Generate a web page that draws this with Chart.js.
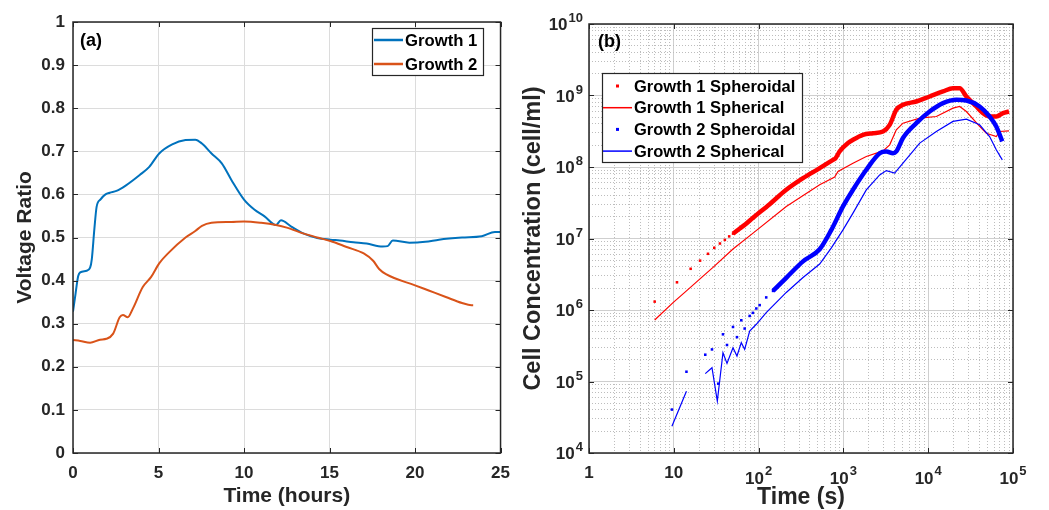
<!DOCTYPE html>
<html>
<head>
<meta charset="utf-8">
<script src="https://cdn.jsdelivr.net/npm/chart.js@4.4.1/dist/chart.umd.min.js"></script>
<style>
	html, body { margin: 0; padding: 0; background: #fff; }
	#wrap { position: relative; width: 1049px; height: 510px; }
	#voltageChart { position: absolute; left: 0; top: 0; }
	#cellChart { position: absolute; left: 520px; top: 0; }
</style>
</head>
<body>
<div id="wrap">
	<canvas id="voltageChart" width="520" height="510"></canvas>
	<canvas id="cellChart" width="529" height="510"></canvas>
</div>
<script>
// (a) voltage ratio vs time (hours)
const hoursGrowth1 = [0, 0.15, 0.3, 0.42, 0.8, 1.0, 1.1, 1.25, 1.38, 1.6, 1.9, 2.15, 2.54, 3.1, 3.9, 4.46, 5.04, 5.8, 6.58, 7.15, 7.54, 8.1, 8.7, 9.27, 10.0, 10.6, 11.2, 11.87, 12.16, 12.74, 13.5, 14.28, 15.05, 15.6, 16.4, 17.17, 18.1, 18.4, 18.7, 19.67, 20.6, 21.4, 22.75, 23.9, 24.67, 25];
const ratioGrowth1 = [0.328, 0.37, 0.41, 0.419, 0.423, 0.43, 0.45, 0.52, 0.571, 0.588, 0.6, 0.604, 0.608, 0.621, 0.645, 0.664, 0.695, 0.716, 0.726, 0.727, 0.718, 0.695, 0.672, 0.633, 0.588, 0.565, 0.549, 0.529, 0.540, 0.526, 0.509, 0.499, 0.495, 0.493, 0.489, 0.486, 0.479, 0.48, 0.493, 0.488, 0.49, 0.495, 0.5, 0.503, 0.513, 0.513];
const hoursGrowth2 = [0, 0.42, 1.0, 1.58, 1.96, 2.35, 2.73, 2.92, 3.2, 3.5, 4.08, 4.56, 5.04, 5.6, 6.58, 7.15, 7.54, 8.1, 9.27, 10, 11, 11.87, 12.5, 13.5, 14.28, 15.05, 16, 17, 17.55, 17.9, 18.3, 20, 20.8, 21.8, 22.75, 23.3, 23.4];
const ratioGrowth2 = [0.262, 0.26, 0.256, 0.263, 0.265, 0.277, 0.315, 0.32, 0.315, 0.335, 0.385, 0.408, 0.44, 0.465, 0.5, 0.515, 0.527, 0.534, 0.536, 0.537, 0.534, 0.529, 0.523, 0.509, 0.5, 0.492, 0.478, 0.463, 0.446, 0.427, 0.415, 0.389, 0.377, 0.362, 0.348, 0.343, 0.343];
const hourTicks = [0, 5, 10, 15, 20, 25];
const ratioTicks = [0, 0.1, 0.2, 0.3, 0.4, 0.5, 0.6, 0.7, 0.8, 0.9, 1];

// (b) cell concentration vs time (s)
const g1SpheroidalTime = [5.95, 10.9, 15.8, 20.4, 25.3, 30, 35, 40, 45, 50, 60, 70, 86, 135, 212, 334, 525, 754, 804, 903, 1133, 1297, 1702, 2234, 2931, 3514, 4207, 5042, 7244, 10400, 14960, 19600, 23500, 28200, 37000, 44300, 53000, 63500, 76200, 89700];
const g1SpheroidalConc = [1.31e6, 2.44e6, 3.77e6, 4.9e6, 6.11e6, 7.41e6, 8.51e6, 9.55e6, 1.07e7, 1.17e7, 1.38e7, 1.58e7, 1.95e7, 3.02e7, 4.8e7, 6.98e7, 9.64e7, 1.26e8, 1.32e8, 1.65e8, 2.16e8, 2.4e8, 2.82e8, 2.97e8, 3.14e8, 3.89e8, 6.31e8, 7.41e8, 8.24e8, 9.68e8, 1.14e9, 1.26e9, 1.26e9, 9.68e8, 7.02e8, 5.66e8, 5.08e8, 5.08e8, 5.66e8, 5.97e8];
const g1SphericalTime = [5.95, 9.8, 14.1, 20.2, 29, 49.9, 86, 212, 525, 789, 864, 1297, 1862, 2931, 3514, 4207, 5042, 7943, 12474, 19600, 23500, 28200, 40400, 48500, 63500, 69600, 89700];
const g1SphericalConc = [7.24e5, 1.27e6, 1.85e6, 2.7e6, 3.94e6, 7.13e6, 1.19e7, 2.81e7, 5.64e7, 7.21e7, 8.67e7, 1.13e8, 1.4e8, 1.68e8, 2.04e8, 3.31e8, 4.1e8, 4.82e8, 5.08e8, 6.65e8, 7.02e8, 5.97e8, 3.69e8, 2.97e8, 2.67e8, 3.14e8, 3.21e8];
const g2SpheroidalTime = [9.5, 14.1, 23.5, 28.2, 33.4, 38, 42.4, 49.9, 55.6, 62.5, 68.5, 78.5, 85.6, 94, 103, 123, 148, 212, 334, 525, 721, 989, 1297, 1862, 2679, 3208, 3846, 4207, 5042, 7244, 10400, 14960, 21500, 28200, 40400, 53000, 63500, 74800];
const g2SpheroidalConc = [4.05e4, 1.37e5, 2.37e5, 2.81e5, 9.33e4, 4.57e5, 3.24e5, 5.79e5, 4.17e5, 7.18e5, 5.5e5, 8.26e5, 9.12e5, 1.05e6, 1.17e6, 1.5e6, 1.85e6, 2.82e6, 4.79e6, 7.08e6, 1.32e7, 2.81e7, 4.8e7, 9.14e7, 1.56e8, 1.65e8, 1.56e8, 1.65e8, 2.54e8, 4.1e8, 5.97e8, 7.82e8, 8.71e8, 8.51e8, 7.02e8, 5.08e8, 3.69e8, 2.28e8];
const g2SphericalTime = [9.5, 14.1, 18, 23.5, 28.2, 32.6, 38, 42.4, 49.9, 55.6, 62.5, 68.5, 78.5, 94, 123, 212, 334, 525, 721, 989, 1297, 1862, 2679, 3208, 4025, 5042, 7943, 12474, 19600, 28200, 40400, 53000, 63500, 74800];
const g2SphericalConc = [2.36e4, 7.31e4, null, 1.29e5, 1.56e5, 5.3e4, 2.52e5, 1.79e5, 2.97e5, 2.27e5, 3.49e5, 2.81e5, 5.09e5, 6.31e5, 9.2e5, 1.76e6, 2.85e6, 4.4e6, 7.41e6, 1.32e7, 2.26e7, 4.79e7, 7.76e7, 8.91e7, 8.2e7, 1.13e8, 2.16e8, 3.14e8, 4.34e8, 4.68e8, 3.89e8, 2.67e8, 1.74e8, 1.26e8];
const secondTicks = [1, 10, 100, 1000, 10000, 100000];
const concTicks = [1e4, 1e5, 1e6, 1e7, 1e8, 1e9, 1e10];

const FONT = '"Liberation Sans", Arial, sans-serif';
const INK = '#262626';
Chart.defaults.font.family = FONT;
Chart.defaults.color = INK;
Chart.defaults.animation = false;

function pairs(xs, ys) {
	return xs.map((x, i) => ({ x: x, y: ys[i] }));
}

// minor log grid positions (2..9 of each decade)
function minorsBetween(lo, hi) {
	const out = [];
	for (let d = lo; d < hi; d *= 10) {
		for (let m = 2; m <= 9; m++) out.push(m * d);
	}
	return out;
}

// frame box + inward tick marks, like a matlab axes box
const axesBox = {
	id: 'axesBox',
	afterDatasetsDraw(chart) {
		const { ctx, chartArea: a, scales } = chart;
		const tl = 5;
		ctx.save();
		ctx.strokeStyle = INK;
		ctx.lineWidth = 1;
		ctx.beginPath();
		scales.x.ticks.forEach(t => {
			const px = Math.round(scales.x.getPixelForValue(t.value)) + 0.5;
			ctx.moveTo(px, a.bottom); ctx.lineTo(px, a.bottom - tl);
			ctx.moveTo(px, a.top); ctx.lineTo(px, a.top + tl);
		});
		scales.y.ticks.forEach(t => {
			const py = Math.round(scales.y.getPixelForValue(t.value)) + 0.5;
			ctx.moveTo(a.left, py); ctx.lineTo(a.left + tl, py);
			ctx.moveTo(a.right, py); ctx.lineTo(a.right - tl, py);
		});
		ctx.stroke();
		ctx.lineWidth = 1.5;
		ctx.strokeRect(a.left, a.top, a.right - a.left, a.bottom - a.top);
		ctx.restore();
	}
};

// boxed legend inside the axes, plus the panel letter
const boxedLegend = {
	id: 'boxedLegend',
	afterDraw(chart, args, o) {
		const ctx = chart.ctx;
		ctx.save();
		ctx.fillStyle = '#fff';
		ctx.fillRect(o.x, o.y, o.w, o.h);
		ctx.strokeStyle = INK;
		ctx.lineWidth = 1.2;
		ctx.strokeRect(o.x + 0.5, o.y + 0.5, o.w, o.h);
		ctx.font = 'bold ' + o.size + 'px ' + FONT;
		ctx.textBaseline = 'middle';
		chart.data.datasets.forEach((ds, i) => {
			const cy = o.rowY + i * o.rowGap;
			if (ds.dots) {
				ctx.fillStyle = ds.borderColor;
				ctx.fillRect((o.s1 + o.s2) / 2 - 1.5, cy - 1.5, 3, 3);
			} else {
				ctx.strokeStyle = ds.borderColor;
				ctx.lineWidth = o.sampleWidth;
				ctx.beginPath();
				ctx.moveTo(o.s1, cy); ctx.lineTo(o.s2, cy);
				ctx.stroke();
			}
			ctx.fillStyle = '#000';
			ctx.fillText(ds.label, o.tx, cy + 1);
		});
		ctx.font = 'bold 18px ' + FONT;
		ctx.textBaseline = 'alphabetic';
		ctx.fillStyle = '#000';
		ctx.fillText(o.panel, o.px, o.py);
		ctx.restore();
	}
};

// 10^n tick labels with raised exponents
const powerLabels = {
	id: 'powerLabels',
	afterDraw(chart) {
		const { ctx, scales: { x, y } } = chart;
		const baseFont = 'bold 17px ' + FONT;
		const supFont = 'bold 13px ' + FONT;
		ctx.save();
		ctx.fillStyle = INK;
		ctx.textBaseline = 'alphabetic';
		ctx.textAlign = 'left';
		const parts = v => {
			const e = Math.round(Math.log10(v));
			if (e === 0) return ['1', ''];
			if (e === 1) return ['10', ''];
			return ['10', String(e)];
		};
		const widths = (b, s) => {
			ctx.font = baseFont;
			const wb = ctx.measureText(b).width;
			ctx.font = supFont;
			const ws = s ? ctx.measureText(s).width + 1 : 0;
			return [wb, ws];
		};
		const put = (b, s, left, baseY, supY, wb) => {
			ctx.font = baseFont;
			ctx.fillText(b, left, baseY);
			if (s) {
				ctx.font = supFont;
				ctx.fillText(s, left + wb + 1, supY);
			}
		};
		x.ticks.forEach(t => {
			const [b, s] = parts(t.value);
			const [wb, ws] = widths(b, s);
			const px = x.getPixelForValue(t.value);
			const left = px - (wb + ws) / 2;
			if (s) put(b, s, left, 484, 475, wb);
			else put(b, s, left, 478, 0, wb);
		});
		y.ticks.forEach(t => {
			const [b, s] = parts(t.value);
			const [wb, ws] = widths(b, s);
			const py = y.getPixelForValue(t.value);
			const right = y.right - 6;
			put(b, s, right - wb - ws, py + 6, py - 2, wb);
		});
		ctx.restore();
	}
};

// ---------- chart (a)
new Chart(document.getElementById('voltageChart'), {
	type: 'line',
	data: {
		datasets: [{
			label: 'Growth 1',
			data: pairs(hoursGrowth1, ratioGrowth1),
			borderColor: '#0072BD',
			borderWidth: 2,
			pointRadius: 0,
			cubicInterpolationMode: 'monotone',
			order: 2
		}, {
			label: 'Growth 2',
			data: pairs(hoursGrowth2, ratioGrowth2),
			borderColor: '#D95319',
			borderWidth: 2,
			pointRadius: 0,
			cubicInterpolationMode: 'monotone',
			order: 1
		}]
	},
	options: {
		responsive: false,
		layout: { padding: { top: 22, right: 14, left: 0, bottom: 0 } },
		plugins: {
			legend: { display: false },
			tooltip: { enabled: false },
			boxedLegend: {
				x: 372, y: 28, w: 111, h: 47,
				rowY: 40, rowGap: 24,
				s1: 374, s2: 403, tx: 405, size: 16.7, sampleWidth: 2.5,
				panel: '(a)', px: 80, py: 46
			}
		},
		scales: {
			x: {
				type: 'linear', min: 0, max: 25,
				afterBuildTicks: s => { s.ticks = hourTicks.map(v => ({ value: v })); },
				afterFit: s => { s.height = 57; },
				grid: { color: '#dcdcdc', drawTicks: false },
				border: { display: false },
				ticks: { padding: 10, maxRotation: 0, color: INK, font: { size: 17, weight: 'bold' } },
				title: { display: true, text: 'Time (hours)', color: INK, font: { size: 21, weight: 'bold', lineHeight: 1 }, padding: { top: 0, bottom: 3 } }
			},
			y: {
				min: 0, max: 1,
				afterBuildTicks: s => { s.ticks = ratioTicks.map(v => ({ value: v })); },
				afterFit: s => { s.width = 73; },
				grid: { color: '#dcdcdc', drawTicks: false },
				border: { display: false },
				ticks: { padding: 8, color: INK, font: { size: 17, weight: 'bold' }, callback: v => String(+v.toFixed(1)) },
				title: { display: true, text: 'Voltage Ratio', color: INK, font: { size: 21, weight: 'bold', lineHeight: 1 }, padding: { top: 15, bottom: 0 } }
			}
		}
	},
	plugins: [axesBox, boxedLegend]
});

// ---------- chart (b)
const clear = 'rgba(0,0,0,0)';
function dotted(label, xs, ys, color, cut, order) {
	return {
		label: label,
		dots: true,
		data: pairs(xs, ys),
		borderColor: color,
		backgroundColor: color,
		borderWidth: 4.5,
		pointStyle: 'rect',
		pointBorderWidth: 0,
		pointRadius: c => (c.raw && c.raw.x <= cut ? 1.8 : 0),
		segment: { borderColor: c => (c.p0.parsed.x < cut ? clear : color) },
		cubicInterpolationMode: 'monotone',
		order: order
	};
}
function thin(label, xs, ys, color, order) {
	return {
		label: label,
		data: pairs(xs, ys),
		borderColor: color,
		borderWidth: 1.2,
		pointRadius: 0,
		spanGaps: false,
		order: order
	};
}

new Chart(document.getElementById('cellChart'), {
	type: 'line',
	data: {
		datasets: [
			dotted('Growth 1 Spheroidal', g1SpheroidalTime, g1SpheroidalConc, '#FF0000', 50, 4),
			thin('Growth 1 Spherical', g1SphericalTime, g1SphericalConc, '#FF0000', 3),
			dotted('Growth 2 Spheroidal', g2SpheroidalTime, g2SpheroidalConc, '#0000FF', 148, 2),
			thin('Growth 2 Spherical', g2SphericalTime, g2SphericalConc, '#0000FF', 1)
		]
	},
	options: {
		responsive: false,
		layout: { padding: { top: 24, right: 36, left: 0, bottom: 0 } },
		plugins: {
			legend: { display: false },
			tooltip: { enabled: false },
			boxedLegend: {
				x: 82, y: 73, w: 200, h: 89,
				rowY: 86, rowGap: 21.7,
				s1: 83, s2: 112, tx: 114, size: 16.5, sampleWidth: 1.5,
				panel: '(b)', px: 78, py: 47
			}
		},
		scales: {
			x: {
				type: 'logarithmic', min: 1, max: 1e5,
				afterBuildTicks: s => { s.ticks = secondTicks.map(v => ({ value: v })); },
				afterFit: s => { s.height = 57; },
				grid: { color: '#cfcfcf', drawTicks: false },
				border: { display: false },
				ticks: { display: false },
				title: { display: true, text: 'Time (s)', color: INK, font: { size: 23, weight: 'bold', lineHeight: 1 }, padding: { top: 0, bottom: 1 } }
			},
			xMinor: {
				type: 'logarithmic', position: 'bottom', min: 1, max: 1e5,
				afterBuildTicks: s => { s.ticks = minorsBetween(1, 1e5).map(v => ({ value: v })); },
				grid: { color: '#bdbdbd', drawTicks: false },
				border: { display: false, dash: [1, 2] },
				ticks: { display: false }
			},
			y: {
				type: 'logarithmic', min: 1e4, max: 1e10,
				afterBuildTicks: s => { s.ticks = concTicks.map(v => ({ value: v })); },
				afterFit: s => { s.width = 69; },
				grid: { color: '#cfcfcf', drawTicks: false },
				border: { display: false },
				ticks: { display: false },
				title: { display: true, text: 'Cell Concentration (cell/ml)', color: INK, font: { size: 23.5, weight: 'bold', lineHeight: 1 }, padding: { top: 1.5, bottom: 0 } }
			},
			yMinor: {
				type: 'logarithmic', position: 'left', min: 1e4, max: 1e10,
				afterBuildTicks: s => { s.ticks = minorsBetween(1e4, 1e10).map(v => ({ value: v })); },
				grid: { color: '#bdbdbd', drawTicks: false },
				border: { display: false, dash: [1, 2] },
				ticks: { display: false }
			}
		}
	},
	plugins: [axesBox, boxedLegend, powerLabels]
});
</script>
</body>
</html>
